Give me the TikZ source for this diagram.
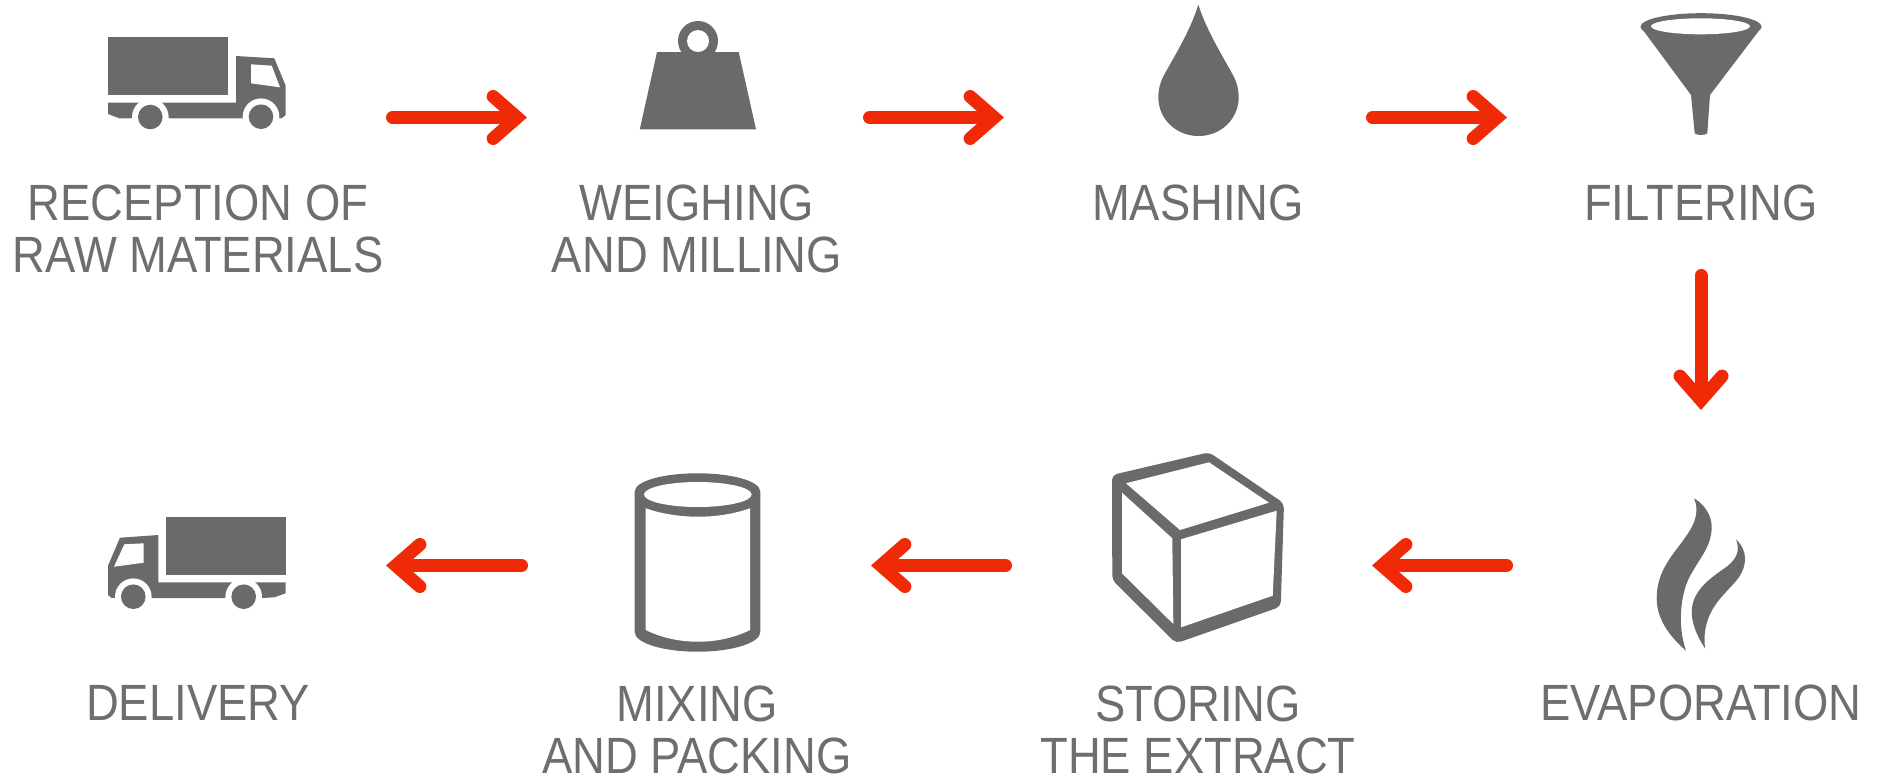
\documentclass[tikz,border=0pt]{standalone}
\usepackage{fontspec}
\setmainfont{Liberation Sans}[FakeStretch=0.89]
\usetikzlibrary{arrows.meta}
\definecolor{icongray}{HTML}{6A6A68}
\definecolor{labelgray}{HTML}{6E6E6C}
\definecolor{flowred}{HTML}{F02A07}
\tikzset{
  lbl/.style={text=labelgray,inner sep=0pt,align=center,font=\fontsize{51}{52}\selectfont},
  flow/.style={draw=flowred,line width=13pt,line cap=round,
    -{Straight Barb[length=24pt,width=42pt,line width=13pt,line cap=round,line join=miter]}}
}
\begin{document}
\begin{tikzpicture}[x=1pt,y=-1pt]
\useasboundingbox (0,0) rectangle (1878,777);
% labels
\node[lbl] (l1) at (198,228.5) {RECEPTION OF\\RAW MATERIALS};
\node[lbl] (l2) at (697,228.5) {WEIGHING\\AND MILLING};
\node[lbl] (l3) at (1198,202.5) {MASHING};
\node[lbl] (l4) at (1701,202.5) {FILTERING};
\node[lbl] (l5) at (1701,703) {EVAPORATION};
\node[lbl] (l6) at (1198,730) {STORING\\THE EXTRACT};
\node[lbl] (l7) at (697,730) {MIXING\\AND PACKING};
\node[lbl] (l8) at (198,703) {DELIVERY};
% truck 1
\fill[icongray] (108,37.3) rectangle (228.3,95);
\fill[icongray] (236,56) -- (274.3,58.3) -- (285.7,85.7) -- (285.7,115) -- (281.7,118.3) -- (236,118.3) -- (119.3,118.3) -- (108,114) -- (108,102.7) -- (236,102.7) -- cycle;
\fill[white] (150.3,117) circle (18.3) (261,116.7) circle (18.3);
\fill[white] (130,118.5) rectangle (170,125) (240,118.5) rectangle (282,125);
\fill[icongray] (150.3,117) circle (12.3) (261,116.7) circle (12.3);
\fill[white] (251,64.3) -- (271.7,65.7) -- (280,87.3) -- (251,83.3) -- cycle;
% truck 2
\fill[icongray] (165.7,516.7) rectangle (285.7,574.7);
\fill[icongray] (158.3,535) -- (120,537.7) -- (108,565.7) -- (108,595) -- (111.7,598) -- (262.7,598) -- (274.3,597.3) -- (285.7,593.3) -- (285.7,582.3) -- (158.3,582.3) -- cycle;
\fill[white] (133.3,596.7) circle (18.3) (243.7,596.7) circle (18.3);
\fill[white] (112,598.2) rectangle (152,606) (224,598.2) rectangle (263,606);
\fill[icongray] (133.3,596.7) circle (12.3) (243.7,596.7) circle (12.3);
\fill[white] (124.3,544.3) -- (143.7,543.3) -- (143.7,562.7) -- (114,566.7) -- cycle;
% weight
\fill[icongray] (698,41) circle (20);
\fill[icongray] (657,52) -- (738.7,52) -- (756,129.3) -- (639.8,129.3) -- cycle;
\fill[white] (698,41) circle (11);
% drop
\fill[icongray] (1198.3,4.7) .. controls (1190,32) and (1172,60) .. (1163,77) .. controls (1160,83) and (1158.3,90) .. (1158.3,97) .. controls (1158.3,119) and (1176,136) .. (1198.5,136) .. controls (1221,136) and (1238.7,119) .. (1238.7,97) .. controls (1238.7,90) and (1237,83) .. (1234,77) .. controls (1225,60) and (1207,32) .. (1198.3,4.7) -- cycle;
% funnel
\fill[icongray] (1701,26.7) ellipse [x radius=60.5,y radius=13.5];
\fill[icongray] (1640.7,27) -- (1691,95) -- (1694.7,133.3) .. controls (1697,135.5) and (1705,135.5) .. (1707.3,133.3) -- (1710,95) -- (1761.7,27) -- cycle;
\fill[white] (1700.5,26.3) ellipse [x radius=49.5,y radius=8];
% flames
\fill[icongray] (1694,498.3) .. controls (1704,504) and (1711.7,515) .. (1711.7,527) .. controls (1711.7,547) and (1698,560) .. (1689,578) .. controls (1681,594) and (1677,625) .. (1686,650.7) .. controls (1668,635) and (1656.7,618) .. (1656.7,598.3) .. controls (1656.7,573) and (1670,558) .. (1682,542) .. controls (1692,528) and (1701,515) .. (1694,498.3) -- cycle;
\fill[icongray] (1736,539.3) .. controls (1742,545) and (1745,552) .. (1745,558.3) .. controls (1745,574) and (1735,582) .. (1725,593) .. controls (1713,606) and (1702,622) .. (1705,648.3) .. controls (1696,635) and (1691.7,622) .. (1691.7,612) .. controls (1691.7,590) and (1712,577) .. (1726.7,566.7) .. controls (1735,560) and (1741,552) .. (1736,539.3) -- cycle;
% box
\fill[icongray,rounded corners=5pt] (1112,475) -- (1209,452.3) -- (1284,503.3) -- (1280.7,606.7) -- (1176,643.3) -- (1112.3,580) -- cycle;
\fill[white] (1126,483.3) -- (1209,462.3) -- (1269,502.7) -- (1180,530) -- cycle;
\fill[white] (1122,492.7) -- (1172.3,538.3) -- (1173.3,624) -- (1122,573.3) -- cycle;
\fill[white] (1181,539.3) -- (1276.7,510.7) -- (1272.7,595.7) -- (1181,627.3) -- cycle;
% cylinder
\fill[icongray] (634.7,491.7) .. controls (634.7,481) and (663,473.3) .. (697.5,473.3) .. controls (732,473.3) and (760.3,481) .. (760.3,491.7) -- (760.3,632) .. controls (760.3,643) and (732,651.7) .. (697.5,651.7) .. controls (663,651.7) and (634.7,643) .. (634.7,632) -- cycle;
\fill[white] (697.8,494.5) ellipse [x radius=53.8,y radius=12.5];
\fill[white] (645.7,508.3) .. controls (662,514) and (680,516.7) .. (697.8,516.7) .. controls (716,516.7) and (734,514) .. (750,508.3) -- (750,630) .. controls (734,638) and (716,641.7) .. (697.8,641.7) .. controls (680,641.7) and (662,638) .. (645.7,630) -- cycle;
% connectors
\coordinate (a1s) at (392.5,117.5); \coordinate (a1e) at (527,117.5);
\coordinate (a2s) at (869.5,117.5); \coordinate (a2e) at (1004,117.5);
\coordinate (a3s) at (1372.5,117.5); \coordinate (a3e) at (1507,117.5);
\coordinate (a4s) at (1701,275.5); \coordinate (a4e) at (1701,410);
\coordinate (a5s) at (1506.5,565.5); \coordinate (a5e) at (1372,565.5);
\coordinate (a6s) at (1005.5,565.5); \coordinate (a6e) at (871,565.5);
\coordinate (a7s) at (521.5,565.5); \coordinate (a7e) at (386,565.5);
\draw[flow] (a1s) -- (a1e);
\draw[flow] (a2s) -- (a2e);
\draw[flow] (a3s) -- (a3e);
\draw[flow] (a4s) -- (a4e);
\draw[flow] (a5s) -- (a5e);
\draw[flow] (a6s) -- (a6e);
\draw[flow] (a7s) -- (a7e);
\end{tikzpicture}
\end{document}
